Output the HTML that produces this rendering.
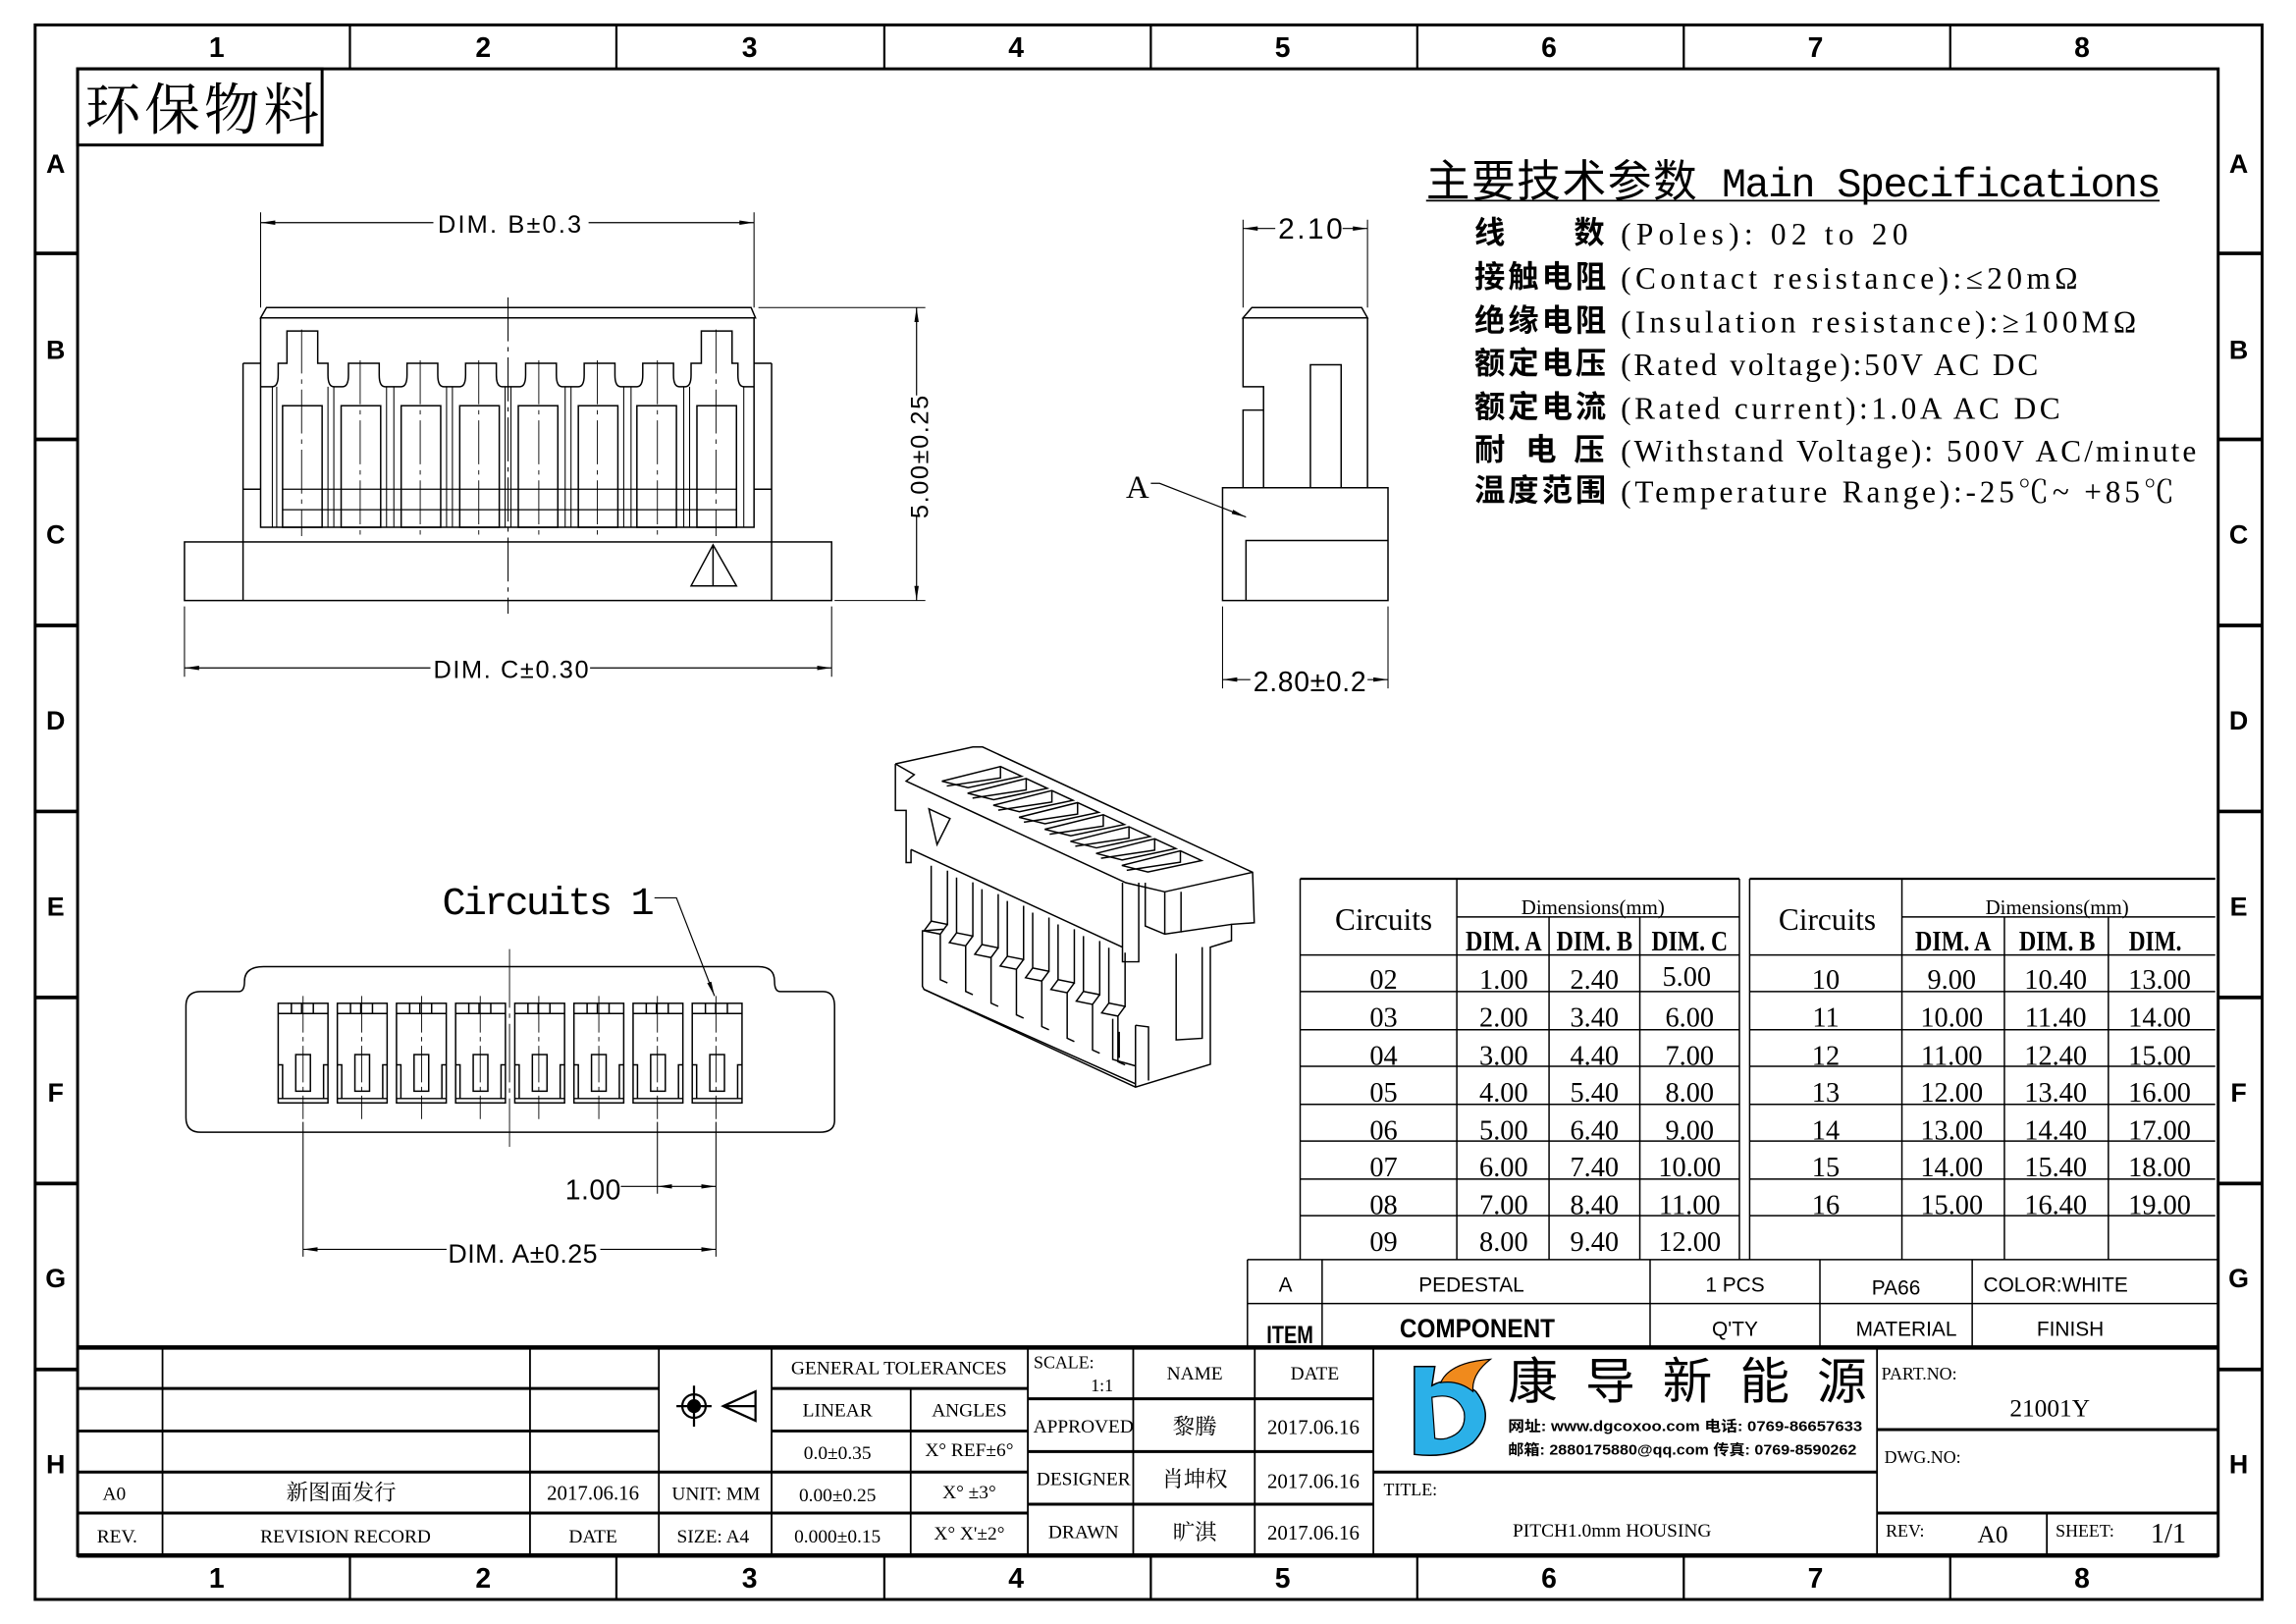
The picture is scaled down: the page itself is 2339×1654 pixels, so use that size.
<!DOCTYPE html>
<html><head><meta charset="utf-8"><style>
html,body{margin:0;padding:0;background:#fff}
svg{display:block}
text{font-family:"Liberation Serif","Noto Serif CJK SC",serif;fill:#000}
.s{font-family:"Liberation Sans","Noto Sans CJK SC",sans-serif}
.c{font-family:"Liberation Sans","Noto Sans CJK SC",sans-serif;font-weight:bold}
</style></head><body>
<svg width="2339" height="1654" viewBox="0 0 1560 1103" preserveAspectRatio="none" xmlns="http://www.w3.org/2000/svg">
<defs>
<marker id="ar" viewBox="0 0 10 4" refX="10" refY="2" markerWidth="10" markerHeight="4" markerUnits="userSpaceOnUse" orient="auto-start-reverse"><path d="M0,0.5 L10,2 L0,3.5Z" fill="#000"/></marker>
</defs>
<g transform="scale(0.9948)">
<g fill="none" stroke="#000">
<rect x="24" y="17" width="1521" height="1075" stroke-width="2"/>
<rect x="53" y="47" width="1462" height="1015" stroke-width="2"/>
<g stroke-width="1.5">
<path d="M239,17V47M421,17V47M604,17V47M786,17V47M968,17V47M1150,17V47M1332,17V47"/>
<path d="M239,1062V1092M421,1062V1092M604,1062V1092M786,1062V1092M968,1062V1092M1150,1062V1092M1332,1062V1092"/>
</g>
<g stroke-width="2.5">
<path d="M24,173H53M24,300H53M24,427H53M24,554H53M24,681H53M24,808H53M24,935H53"/>
<path d="M1515,173H1545M1515,300H1545M1515,427H1545M1515,554H1545M1515,681H1545M1515,808H1545M1515,935H1545"/>
</g>
<rect x="53" y="47" width="167" height="52" stroke-width="2"/>
</g>
<g class="c" font-size="19" text-anchor="middle">
<text x="148" y="39" class="c">1</text><text x="330" y="39" class="c">2</text><text x="512" y="39" class="c">3</text><text x="694" y="39" class="c">4</text><text x="876" y="39" class="c">5</text><text x="1058" y="39" class="c">6</text><text x="1240" y="39" class="c">7</text><text x="1422" y="39" class="c">8</text>
<text x="148" y="1084" class="c">1</text><text x="330" y="1084" class="c">2</text><text x="512" y="1084" class="c">3</text><text x="694" y="1084" class="c">4</text><text x="876" y="1084" class="c">5</text><text x="1058" y="1084" class="c">6</text><text x="1240" y="1084" class="c">7</text><text x="1422" y="1084" class="c">8</text>
</g>
<g font-size="18" text-anchor="middle">
<text class="c" x="38" y="118">A</text><text class="c" x="38" y="245">B</text><text class="c" x="38" y="371">C</text><text class="c" x="38" y="498">D</text><text class="c" x="38" y="625">E</text><text class="c" x="38" y="752">F</text><text class="c" x="38" y="879">G</text><text class="c" x="38" y="1006">H</text>
<text class="c" x="1529" y="118">A</text><text class="c" x="1529" y="245">B</text><text class="c" x="1529" y="371">C</text><text class="c" x="1529" y="498">D</text><text class="c" x="1529" y="625">E</text><text class="c" x="1529" y="752">F</text><text class="c" x="1529" y="879">G</text><text class="c" x="1529" y="1006">H</text>
</g>
<text x="58" y="88" font-size="38" textLength="160" style="font-family:'Noto Serif CJK SC',serif">环保物料</text>

<g fill="none" stroke="#000" stroke-width="1">
<path d="M178,217 L182,210 L513,210 L516,217 Z"/>
<path d="M178,217V360H515V217"/>
<path d="M166,248H178M515,248H527M166,248V370M527,248V370"/>
<path d="M166,334H178M515,334H527"/>
<rect x="126" y="370" width="442" height="40"/>
<path d="M166,370V410M527,370V410"/>
<path d="M178,264 L186,264 Q190,264 190,256 L190,248 L196,248 L196,226 L217,226 L217,248 L224,248 L224,256 Q224,264 228,264 L234,264 Q238,264 238,256 L238,248 L259,248 L259,256 Q259,264 263,264 L274,264 Q278,264 278,256 L278,248 L299,248 L299,256 Q299,264 303,264 L314,264 Q318,264 318,256 L318,248 L339,248 L339,256 Q339,264 343,264 L355,264 Q359,264 359,256 L359,248 L380,248 L380,256 Q380,264 384,264 L395,264 Q399,264 399,256 L399,248 L420,248 L420,256 Q420,264 424,264 L435,264 Q439,264 439,256 L439,248 L460,248 L460,256 Q460,264 464,264 L468,264 Q472,264 472,256 L472,248 L479,248 L479,226 L500,226 L500,248 L504,248 L504,256 Q504,264 508,264 L515,264"/>
<rect x="193" y="277" width="27" height="83"/><rect x="233" y="277" width="27" height="83"/><rect x="274" y="277" width="27" height="83"/><rect x="314" y="277" width="27" height="83"/><rect x="354" y="277" width="27" height="83"/><rect x="395" y="277" width="27" height="83"/><rect x="435" y="277" width="27" height="83"/><rect x="476" y="277" width="27" height="83"/>
<path d="M193,334H503M193,348H503" stroke-width="0.8"/>
<path d="M186,264V360M189,264V360M224,264V360M228,264V360M264,264V360M269,264V360M305,264V360M309,264V360M345,264V360M349,264V360M386,264V360M390,264V360M426,264V360M431,264V360M467,264V360M471,264V360M508,264V360" stroke-width="0.7"/>
<path d="M206,225V366M246,246V366M287,246V366M327,246V366M368,246V366M408,246V366M449,246V366M489,225V366" stroke-width="0.6" stroke-dasharray="30,4,3,4"/>
<path d="M347,203V419" stroke-width="0.7" stroke-dasharray="30,4,3,4"/>
<path d="M487,372 L472,400 L503,400 Z M487,372V400"/>
<path d="M178,145V210M515,145V210" stroke-width="0.7"/>
<path d="M178,152H296M402,152H515" stroke-width="0.8" marker-start="url(#ar)" marker-end="url(#ar)"/>
<path d="M518,210H632M570,410H632" stroke-width="0.7"/>
<path d="M626,210V270M626,352V410" stroke-width="0.8" marker-start="url(#ar)" marker-end="url(#ar)"/>
<path d="M126,414V462M568,414V462" stroke-width="0.7"/>
<path d="M126,456H294M403,456H568" stroke-width="0.8" marker-start="url(#ar)" marker-end="url(#ar)"/>
</g>
<g class="s" font-size="17">
<text class="s" x="299" y="159" textLength="98">DIM. B±0.3</text>
<text class="s" x="296" y="463" textLength="106">DIM. C±0.30</text>
<text class="s" transform="translate(634,354) rotate(-90)" textLength="84">5.00±0.25</text>
</g>

<g transform="translate(5,0)">
<g fill="none" stroke="#000" stroke-width="1">
<path d="M844,217 L850,210 L925,210 L929,217 Z"/>
<path d="M844,217V264H858V280H844V333"/>
<path d="M858,280V333M890,333V249H911V333M929,217V333"/>
<rect x="830" y="333" width="113" height="77"/>
<path d="M846,410V369H943"/>
<path d="M844,150V210M929,150V210M830,414V470M943,414V470" stroke-width="0.7"/>
<path d="M844,156H866M912,156H929" stroke-width="0.8" marker-start="url(#ar)" marker-end="url(#ar)"/>
<path d="M830,464H849M929,464H943" stroke-width="0.8" marker-start="url(#ar)" marker-end="url(#ar)"/>
<path d="M781,330H787L846,353" stroke-width="0.8" marker-end="url(#ar)"/>
</g>
<text class="s" x="868" y="163" font-size="20" textLength="44">2.10</text>
<text class="s" x="851" y="472" font-size="19" textLength="77">2.80±0.2</text>
<text x="764" y="340" font-size="22">A</text>
</g>

<g transform="translate(600,500) scale(0.2222)" fill="none" stroke="#000" stroke-width="4.5">
<path d="M52,97 L290,45 L320,45 L1150,430 L1155,585 L1085,590 L1085,640 L1020,660 L1020,1020 L790,1090 L140,790 L135,780 L135,610 L200,605"/>
<path d="M52,97 L52,240 L85,240 L85,400 L100,400 L100,360"/>
<path d="M52,97 L110,130 L85,150 L760,462 L880,490 L1150,430"/>
<path d="M100,360 L750,660 M750,462 L750,705 L800,705 L800,462"/>
<path d="M820,462 L820,595 L880,620 L1085,590 M880,490 L880,620 M930,490 L930,615"/>
<path d="M915,680 L915,945 L995,940 L995,660"/>
<path d="M790,900 L790,1090 M790,900 L830,905 L830,1070 M720,880 L720,1005 L790,1025 M740,920 L740,1000"/>
<path d="M140,790 L790,1080"/>
<path d="M155,235 L220,265 L180,345 Z"/>
<g id="sl">
<path d="M195,150 L375,105 L440,135 L275,170 Z M375,105 L375,140 L210,165"/>
</g>
<use href="#sl" transform="translate(79,37)"/><use href="#sl" transform="translate(158,74)"/><use href="#sl" transform="translate(237,111)"/><use href="#sl" transform="translate(316,148)"/><use href="#sl" transform="translate(395,185)"/><use href="#sl" transform="translate(474,222)"/><use href="#sl" transform="translate(553,259)"/>
<g id="lg"><path d="M162,410 L162,580 L212,590 L212,425 M162,580 L140,610 L190,620 L212,590 M190,620 L190,760 L212,770"/></g>
<use href="#lg" transform="translate(78,36)"/><use href="#lg" transform="translate(156,72)"/><use href="#lg" transform="translate(234,108)"/><use href="#lg" transform="translate(312,144)"/><use href="#lg" transform="translate(390,180)"/><use href="#lg" transform="translate(468,216)"/><use href="#lg" transform="translate(546,252)"/>
</g>

<g fill="none" stroke="#000" stroke-width="1">
<path d="M137,677 H163 Q167,677 167,670 Q167,660 180,660 H518 Q529,660 529,670 Q529,677 533,677 H562 Q570,677 570,687 V765 Q570,773 560,773 H137 Q127,773 127,763 V687 Q127,677 137,677 Z"/>
<g id="ct">
<rect x="190" y="685" width="34" height="68"/>
<path d="M190,692H224M199,685V692M206,685V692M214,685V692M190,750H224"/>
<rect x="202" y="720" width="10" height="25"/>
<path d="M190,727H193V750M224,727H221V750"/>
</g>
<use href="#ct" transform="translate(40.4,0)"/><use href="#ct" transform="translate(80.8,0)"/><use href="#ct" transform="translate(121.2,0)"/><use href="#ct" transform="translate(161.6,0)"/><use href="#ct" transform="translate(202,0)"/><use href="#ct" transform="translate(242.4,0)"/><use href="#ct" transform="translate(282.8,0)"/>
<path d="M207,680V764M247,680V764M288,680V764M328,680V764M368,680V764M409,680V764M449,680V764M489,680V764" stroke-width="0.6" stroke-dasharray="25,3,3,3"/>
<path d="M348,648V783" stroke-width="0.6" stroke-dasharray="40,4,3,4"/>
<path d="M207,766V858M449,766V815M489,766V858" stroke-width="0.7"/>
<path d="M207,853H305M410,853H489" stroke-width="0.8" marker-start="url(#ar)" marker-end="url(#ar)"/>
<path d="M424,810H449" stroke-width="0.8"/>
<path d="M449,810H489" stroke-width="0.8" marker-start="url(#ar)" marker-end="url(#ar)"/>
<path d="M447,613H462L488,680" stroke-width="0.8" marker-end="url(#ar)"/>
</g>
<text x="302" y="624" font-size="27" textLength="145" style="font-family:'Liberation Mono',monospace">Circuits 1</text>
<text class="s" x="386" y="819" font-size="19" textLength="38">1.00</text>
<text class="s" x="306" y="862" font-size="18" textLength="102">DIM. A±0.25</text>

<text x="974" y="134" font-size="30" textLength="185" style="font-family:'Noto Sans CJK SC',sans-serif">主要技术参数</text>
<text x="1176" y="134" font-size="28" textLength="300" style="font-family:'Liberation Mono',monospace">Main Specifications</text>
<line x1="974" y1="137" x2="1475" y2="137" stroke="#000" stroke-width="1.2"/>
<g font-size="21">
<text class="c" x="1007" y="166">线</text><text class="c" x="1075" y="166">数</text>
<text class="c" x="1007" y="196" textLength="90">接触电阻</text>
<text class="c" x="1007" y="226" textLength="90">绝缘电阻</text>
<text class="c" x="1007" y="255" textLength="90">额定电压</text>
<text class="c" x="1007" y="285" textLength="90">额定电流</text>
<text class="c" x="1007" y="314">耐</text><text class="c" x="1042" y="314">电</text><text class="c" x="1075" y="314">压</text>
<text class="c" x="1007" y="342" textLength="90">温度范围</text>
</g>
<g font-size="21" style="font-family:'Liberation Serif',serif">
<text x="1107" y="167" textLength="196">(Poles): 02 to 20</text>
<text x="1107" y="197" textLength="312">(Contact resistance):≤20mΩ</text>
<text x="1107" y="227" textLength="352">(Insulation resistance):≥100MΩ</text>
<text x="1107" y="256" textLength="285">(Rated voltage):50V AC DC</text>
<text x="1107" y="286" textLength="300">(Rated current):1.0A AC DC</text>
<text x="1107" y="315" textLength="393">(Withstand Voltage): 500V AC/minute</text>
<text x="1107" y="343" textLength="378">(Temperature Range):-25℃~ +85℃</text>
</g>

<g fill="none" stroke="#000" stroke-width="1">
<path d="M888,600H1188M1195,600H1513" stroke-width="1.5"/>
<path d="M888,600V860M1188,600V860M1195,600V860"/>
<path d="M995,600V860M1058,626V860M1120,626V860M1299,600V860M1369,626V860M1440,626V860"/>
<path d="M995,626H1188M1299,626H1513"/>
<path d="M888,652H1188M1195,652H1513"/>
<path d="M888,677H1188M888,703H1188M888,728H1188M888,754H1188M888,779H1188M888,805H1188M888,830H1188"/>
<path d="M1195,677H1513M1195,703H1513M1195,728H1513M1195,754H1513M1195,779H1513M1195,805H1513M1195,830H1513"/>
</g>
<g font-size="21" text-anchor="middle">
<text x="945" y="635">Circuits</text><text x="1248" y="635">Circuits</text>
</g>
<g font-size="14" text-anchor="middle">
<text x="1088" y="624">Dimensions(mm)</text><text x="1405" y="624">Dimensions(mm)</text>
</g>
<g font-size="19" text-anchor="middle" font-weight="bold">
<text x="1027" y="649" textLength="52" lengthAdjust="spacingAndGlyphs">DIM. A</text><text x="1089" y="649" textLength="52" lengthAdjust="spacingAndGlyphs">DIM. B</text><text x="1154" y="649" textLength="52" lengthAdjust="spacingAndGlyphs">DIM. C</text>
<text x="1334" y="649" textLength="52" lengthAdjust="spacingAndGlyphs">DIM. A</text><text x="1405" y="649" textLength="52" lengthAdjust="spacingAndGlyphs">DIM. B</text><text x="1472" y="649" textLength="36" lengthAdjust="spacingAndGlyphs">DIM.</text>
</g>
<g font-size="19" text-anchor="middle">
<text x="945" y="675">02</text><text x="1027" y="675">1.00</text><text x="1089" y="675">2.40</text><text x="1152" y="673">5.00</text>
<text x="945" y="701">03</text><text x="1027" y="701">2.00</text><text x="1089" y="701">3.40</text><text x="1154" y="701">6.00</text>
<text x="945" y="727">04</text><text x="1027" y="727">3.00</text><text x="1089" y="727">4.40</text><text x="1154" y="727">7.00</text>
<text x="945" y="752">05</text><text x="1027" y="752">4.00</text><text x="1089" y="752">5.40</text><text x="1154" y="752">8.00</text>
<text x="945" y="778">06</text><text x="1027" y="778">5.00</text><text x="1089" y="778">6.40</text><text x="1154" y="778">9.00</text>
<text x="945" y="803">07</text><text x="1027" y="803">6.00</text><text x="1089" y="803">7.40</text><text x="1154" y="803">10.00</text>
<text x="945" y="829">08</text><text x="1027" y="829">7.00</text><text x="1089" y="829">8.40</text><text x="1154" y="829">11.00</text>
<text x="945" y="854">09</text><text x="1027" y="854">8.00</text><text x="1089" y="854">9.40</text><text x="1154" y="854">12.00</text>
<text x="1247" y="675">10</text><text x="1333" y="675">9.00</text><text x="1404" y="675">10.40</text><text x="1475" y="675">13.00</text>
<text x="1247" y="701">11</text><text x="1333" y="701">10.00</text><text x="1404" y="701">11.40</text><text x="1475" y="701">14.00</text>
<text x="1247" y="727">12</text><text x="1333" y="727">11.00</text><text x="1404" y="727">12.40</text><text x="1475" y="727">15.00</text>
<text x="1247" y="752">13</text><text x="1333" y="752">12.00</text><text x="1404" y="752">13.40</text><text x="1475" y="752">16.00</text>
<text x="1247" y="778">14</text><text x="1333" y="778">13.00</text><text x="1404" y="778">14.40</text><text x="1475" y="778">17.00</text>
<text x="1247" y="803">15</text><text x="1333" y="803">14.00</text><text x="1404" y="803">15.40</text><text x="1475" y="803">18.00</text>
<text x="1247" y="829">16</text><text x="1333" y="829">15.00</text><text x="1404" y="829">16.40</text><text x="1475" y="829">19.00</text>
</g>

<g fill="none" stroke="#000" stroke-width="1">
<path d="M852,860H1515M852,890H1515M852,860V920M903,860V920M1127,860V920M1243,860V920M1347,860V920"/>
</g>
<g class="s" font-size="14" text-anchor="middle">
<text class="s" x="878" y="882">A</text><text class="s" x="1005" y="882">PEDESTAL</text><text class="s" x="1185" y="882">1 PCS</text><text class="s" x="1295" y="884">PA66</text><text class="s" x="1404" y="882">COLOR:WHITE</text>
<text class="s" x="1185" y="912">Q'TY</text><text class="s" x="1302" y="912">MATERIAL</text><text class="s" x="1414" y="912">FINISH</text>
</g>
<text class="c" x="881" y="917" font-size="17" text-anchor="middle" textLength="32" lengthAdjust="spacingAndGlyphs">ITEM</text>
<text class="c" x="1009" y="913" font-size="18" text-anchor="middle" textLength="106" lengthAdjust="spacingAndGlyphs">COMPONENT</text>

<g fill="none" stroke="#000">
<path d="M53,920H1515" stroke-width="3"/>
<path d="M53,948H450M53,977H450M53,1005H450M53,1033H450" stroke-width="2"/>
<path d="M527,948H702M527,977H702M450,1005H702M450,1033H702" stroke-width="2"/>
<path d="M702,955H938M702,991H938M702,1027H938" stroke-width="2"/>
<path d="M938,1005H1282M1282,976H1515M1282,1033H1515" stroke-width="2"/>
<path d="M111,920V1062M362,920V1062M450,920V1062M527,920V1062M622,948V1062M702,920V1062M774,920V1062M857,920V1062M938,920V1062M1282,920V1062M1398,1033V1062" stroke-width="1.2"/>
<path d="M53,1062H1515" stroke-width="3"/>
</g>
<g fill="none" stroke="#000" stroke-width="1.5">
<circle cx="474" cy="960" r="8"/><circle cx="474" cy="960" r="4" fill="#000"/>
<path d="M462,960H486M474,946V974M494,960L516,950V970Z M494,960H516"/>
</g>
<g font-size="13" text-anchor="middle">
<text x="614" y="938">GENERAL TOLERANCES</text>
<text x="572" y="967">LINEAR</text><text x="662" y="967">ANGLES</text>
<text x="572" y="996">0.0±0.35</text><text x="662" y="994">X° REF±6°</text>
<text x="572" y="1025">0.00±0.25</text><text x="662" y="1023">X° ±3°</text>
<text x="572" y="1053">0.000±0.15</text><text x="662" y="1051">X° X'±2°</text>
<text x="489" y="1024">UNIT: MM</text><text x="487" y="1053">SIZE: A4</text>
<text x="78" y="1024">A0</text><text x="80" y="1053">REV.</text>
<text x="236" y="1053">REVISION RECORD</text><text x="405" y="1053">DATE</text>
<text x="405" y="1024" font-size="14">2017.06.16</text>
<text x="233" y="1024" font-size="15" style="font-family:'Noto Serif CJK SC',serif">新图面发行</text>
<text x="816" y="942">NAME</text><text x="898" y="942">DATE</text>
<text x="740" y="978">APPROVED</text><text x="740" y="1014">DESIGNER</text><text x="740" y="1050">DRAWN</text>
<text x="816" y="979" font-size="15" style="font-family:'Noto Serif CJK SC',serif">黎腾</text>
<text x="816" y="1015" font-size="15" style="font-family:'Noto Serif CJK SC',serif">肖坤权</text>
<text x="816" y="1051" font-size="15" style="font-family:'Noto Serif CJK SC',serif">旷淇</text>
<text x="897" y="979" font-size="14">2017.06.16</text><text x="897" y="1016" font-size="14">2017.06.16</text><text x="897" y="1051" font-size="14">2017.06.16</text>
<text x="1101" y="1049">PITCH1.0mm HOUSING</text>
<text x="1361" y="1053" font-size="17">A0</text><text x="1481" y="1053" font-size="19">1/1</text>
<text x="1400" y="967" font-size="17">21001Y</text>
</g>
<g font-size="12">
<text x="706" y="934">SCALE:</text><text x="745" y="950">1:1</text>
<text x="945" y="1021">TITLE:</text>
<text x="1285" y="942">PART.NO:</text><text x="1287" y="999">DWG.NO:</text>
<text x="1288" y="1049">REV:</text><text x="1404" y="1049">SHEET:</text>
</g>
<path d="M966,933 L980,933 L978,946 Q992,938 1008,950 Q1022,968 1006,985 Q992,996 966,993 Z" fill="#2bb0e8" stroke="#000" stroke-width="1"/>
<path d="M978,954 Q995,950 1000,964 Q1002,978 988,982 Q984,983 980,982 Z" fill="#fff" stroke="#000" stroke-width="0.8"/>
<path d="M984,944 Q990,930 1018,928 Q1005,938 1006,950 Q996,942 984,944 Z" fill="#f08a1c" stroke="#000" stroke-width="0.8"/>
<text x="1030" y="955" font-size="34" textLength="245" style="font-family:'Noto Sans CJK SC',sans-serif">康导新能源</text>
<text class="c" x="1030" y="977" font-size="10" textLength="242" lengthAdjust="spacingAndGlyphs">网址: www.dgcoxoo.com 电话: 0769-86657633</text>
<text class="c" x="1030" y="993" font-size="10" textLength="238" lengthAdjust="spacingAndGlyphs">邮箱: 2880175880@qq.com 传真: 0769-8590262</text>
</g>
</svg>
</body></html>
